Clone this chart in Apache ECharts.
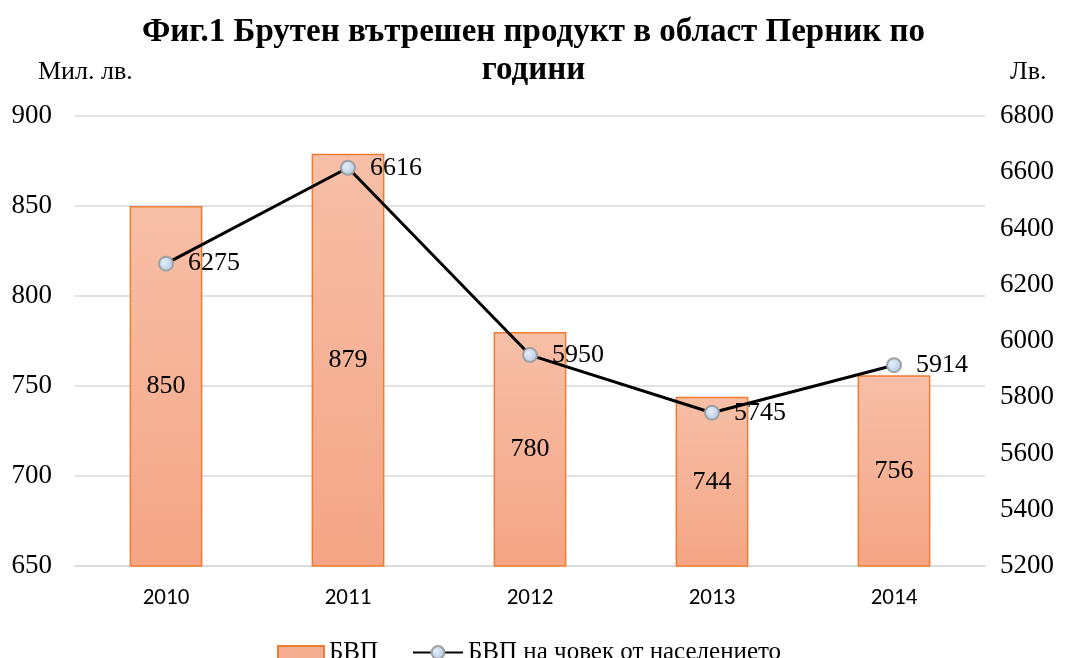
<!DOCTYPE html>
<html>
<head>
<meta charset="utf-8">
<script src="https://cdn.jsdelivr.net/npm/echarts@6/dist/echarts.min.js"></script>
<style>
  html, body { margin: 0; padding: 0; background: #fff; }
  #chart { width: 1067px; height: 658px; }
</style>
</head>
<body>
<div id="chart"></div>
<script>
var years = ["2010", "2011", "2012", "2013", "2014"];
var gdpValues = [850, 879, 780, 744, 756];          // БВП, млн. лв.
var gdpPerCapita = [6275, 6616, 5950, 5745, 5914]; // БВП на човек, лв.
var leftTicks = { min: 650, max: 900, step: 50 };
var rightTicks = { min: 5200, max: 6800, step: 200 };

var chart = echarts.init(document.getElementById("chart"));

var serif = "'Liberation Serif', 'DejaVu Serif', serif";

var option = {
    backgroundColor: "#fff",
    animation: false,
    title: {
        text: "Фиг.1 Брутен вътрешен продукт в област Перник по\nгодини",
        left: "center",
        top: 8,
        textStyle: {
            fontFamily: serif,
            fontWeight: "bold",
            fontSize: 33,
            lineHeight: 38,
            color: "#000"
        }
    },
    // две легенди - за различна ширина на иконките
    legend: [
        {
            left: 272,
            top: 635,
            itemWidth: 46,
            itemHeight: 13,
            textStyle: { fontFamily: serif, fontSize: 25, color: "#000" },
            data: [
                { name: "БВП", icon: "rect", itemStyle: { color: "#F5AF90", borderColor: "#ED7D31", borderWidth: 2 } }
            ]
        },
        {
            left: 407,
            top: 635,
            itemWidth: 50,
            itemHeight: 16,
            textStyle: { fontFamily: serif, fontSize: 25, color: "#000" },
            data: [{ name: "БВП на човек от населението" }]
        }
    ],
    grid: { left: 75, right: 82, top: 116, bottom: 92 },
    xAxis: {
        type: "category",
        data: years,
        axisTick: { show: false },
        axisLine: { lineStyle: { color: "#d9d9d9", width: 1.5 } },
        axisLabel: { fontFamily: "'Carlito', 'Liberation Sans', sans-serif", fontSize: 23, color: "#000", margin: 21 }
    },
    yAxis: [
        {
            type: "value",
            name: "Мил. лв.",
            nameLocation: "end",
            nameGap: 31,
            nameTextStyle: { fontFamily: serif, fontSize: 26, color: "#000", align: "left", padding: [0, 0, 0, -37] },
            min: leftTicks.min, max: leftTicks.max, interval: leftTicks.step,
            axisLine: { show: false },
            axisTick: { show: false },
            splitLine: { lineStyle: { color: "#d9d9d9", width: 1.5 } },
            axisLabel: { fontFamily: serif, fontSize: 27, color: "#000", margin: 23 }
        },
        {
            type: "value",
            name: "Лв.",
            nameLocation: "end",
            nameGap: 31,
            nameTextStyle: { fontFamily: serif, fontSize: 26, color: "#000", align: "left", padding: [0, 0, 0, 25] },
            min: rightTicks.min, max: rightTicks.max, interval: rightTicks.step,
            axisLine: { show: false },
            axisTick: { show: false },
            splitLine: { show: false },
            axisLabel: {
                fontFamily: serif, fontSize: 27, color: "#000", margin: 15,
                formatter: function(v) { return String(v); }
            }
        }
    ],
    series: [
        {
            name: "БВП",
            type: "bar",
            yAxisIndex: 0,
            barWidth: "40%",
            data: gdpValues,
            itemStyle: {
                color: new echarts.graphic.LinearGradient(0, 0, 0, 1, [
                    { offset: 0, color: "#F7BFA7" },
                    { offset: 1, color: "#F4A585" }
                ]),
                borderColor: "#ED7D31",
                borderWidth: 1.5
            },
            label: {
                show: true,
                position: "inside",
                fontFamily: serif,
                fontSize: 26,
                color: "#000"
            }
        },
        {
            name: "БВП на човек от населението",
            type: "line",
            yAxisIndex: 1,
            data: gdpPerCapita,
            symbol: "circle",
            symbolSize: 14,
            lineStyle: { color: "#000", width: 3 },
            itemStyle: {
                color: new echarts.graphic.RadialGradient(0.4, 0.4, 0.7, [
                    { offset: 0, color: "#E4EEF8" },
                    { offset: 1, color: "#A9C6E4" }
                ]),
                borderColor: "#A0A0A0",
                borderWidth: 2
            },
            label: {
                show: true,
                position: "right",
                distance: 14,
                fontFamily: serif,
                fontSize: 26,
                color: "#000"
            },
            z: 5
        }
    ]
};

chart.setOption(option);
</script>
</body>
</html>
